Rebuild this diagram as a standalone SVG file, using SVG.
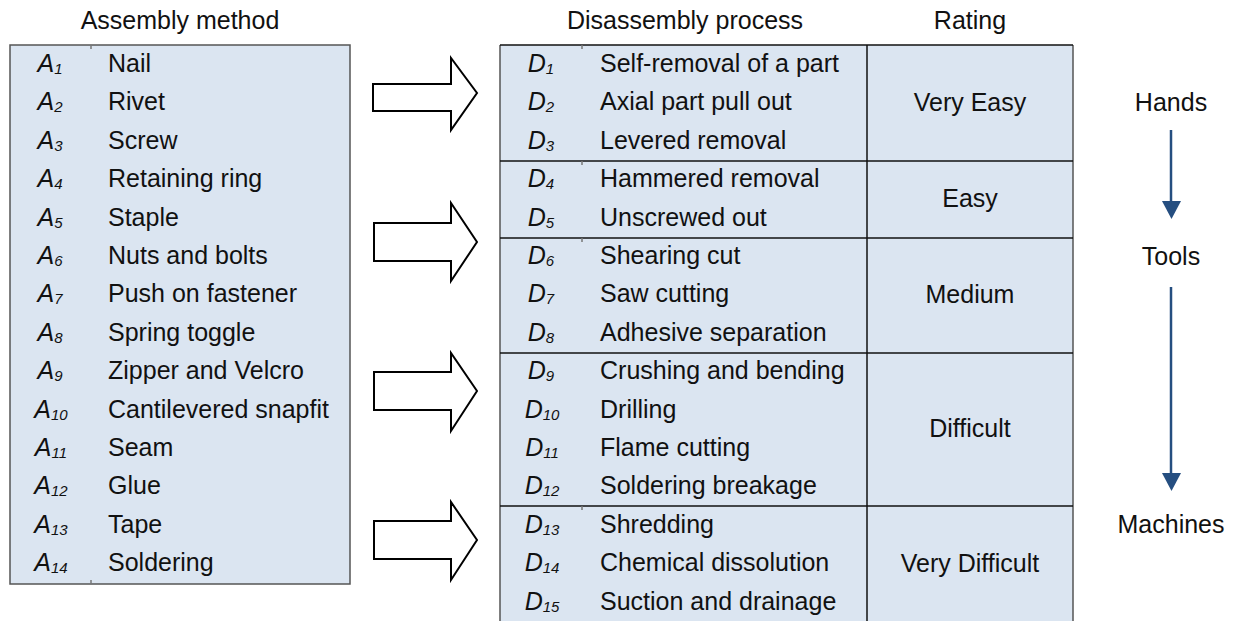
<svg xmlns="http://www.w3.org/2000/svg" width="1233" height="621" viewBox="0 0 1233 621">
<style>
text{font-family:"Liberation Sans",Arial,sans-serif;font-size:25px;fill:#111}
.lbl{font-style:italic;text-anchor:middle}
.sub{font-size:15px}
.c{text-anchor:middle}
.box{fill:#dbe5f1;stroke:none}
.edge{stroke:#555;stroke-width:1.5;fill:none}
.grid{stroke:#111;stroke-width:1.5;fill:none}
.tick{stroke:#777;stroke-width:1.5}
.block{fill:#fff;stroke:#000;stroke-width:2;stroke-linejoin:miter}
.flow{stroke:#254e80;stroke-width:2.5;fill:none}
.head{fill:#254e80}
</style>
<text class="c" x="180" y="29">Assembly method</text>
<text class="c" x="685" y="29">Disassembly process</text>
<text class="c" x="970" y="29">Rating</text>
<g id="assembly">
<rect class="box" x="10" y="45" width="340" height="539"/>
<rect class="edge" x="10" y="45" width="340" height="539"/>
<line class="tick" x1="91" y1="45" x2="91" y2="49"/>
<line class="tick" x1="91" y1="580" x2="91" y2="584"/>
<text class="lbl" x="50" y="72">A<tspan class="sub" dy="2">1</tspan></text><text x="108" y="72">Nail</text>
<text class="lbl" x="50" y="110.4">A<tspan class="sub" dy="2">2</tspan></text><text x="108" y="110.4">Rivet</text>
<text class="lbl" x="50" y="148.8">A<tspan class="sub" dy="2">3</tspan></text><text x="108" y="148.8">Screw</text>
<text class="lbl" x="50" y="187.2">A<tspan class="sub" dy="2">4</tspan></text><text x="108" y="187.2">Retaining ring</text>
<text class="lbl" x="50" y="225.6">A<tspan class="sub" dy="2">5</tspan></text><text x="108" y="225.6">Staple</text>
<text class="lbl" x="50" y="264">A<tspan class="sub" dy="2">6</tspan></text><text x="108" y="264">Nuts and bolts</text>
<text class="lbl" x="50" y="302.4">A<tspan class="sub" dy="2">7</tspan></text><text x="108" y="302.4">Push on fastener</text>
<text class="lbl" x="50" y="340.8">A<tspan class="sub" dy="2">8</tspan></text><text x="108" y="340.8">Spring toggle</text>
<text class="lbl" x="50" y="379.2">A<tspan class="sub" dy="2">9</tspan></text><text x="108" y="379.2">Zipper and Velcro</text>
<text class="lbl" x="51" y="417.6">A<tspan class="sub" dy="2">10</tspan></text><text x="108" y="417.6">Cantilevered snapfit</text>
<text class="lbl" x="51" y="456">A<tspan class="sub" dy="2">11</tspan></text><text x="108" y="456">Seam</text>
<text class="lbl" x="51" y="494.4">A<tspan class="sub" dy="2">12</tspan></text><text x="108" y="494.4">Glue</text>
<text class="lbl" x="51" y="532.8">A<tspan class="sub" dy="2">13</tspan></text><text x="108" y="532.8">Tape</text>
<text class="lbl" x="51" y="571.2">A<tspan class="sub" dy="2">14</tspan></text><text x="108" y="571.2">Soldering</text>
</g>
<g id="connectors">
<path class="block" d="M373 84 H451 V58 L477 93 L451 130 V111 H373 Z"/>
<path class="block" d="M374 223 H451 V203 L477 242 L451 281 V261 H374 Z"/>
<path class="block" d="M374 372 H451 V353 L477 391 L451 431 V410 H374 Z"/>
<path class="block" d="M374 521 H451 V502 L477 540 L451 580 V559 H374 Z"/>
<line class="flow" x1="1171" y1="130" x2="1171" y2="203"/>
<path class="head" d="M1162 201 H1181 L1171.5 219 Z"/>
<line class="flow" x1="1171" y1="287" x2="1171" y2="475"/>
<path class="head" d="M1162 473 H1181 L1171.5 491 Z"/>
</g>
<g id="disassembly">
<rect class="box" x="500" y="45" width="573" height="576"/>
<line class="edge" x1="500" y1="45" x2="500" y2="621"/>
<line class="edge" x1="1073" y1="45" x2="1073" y2="621"/>
<line class="grid" x1="500" y1="45" x2="1073" y2="45"/>
<line class="grid" x1="867" y1="45" x2="867" y2="621"/>
<line class="grid" x1="500" y1="161" x2="1073" y2="161"/>
<line class="grid" x1="500" y1="238" x2="1073" y2="238"/>
<line class="grid" x1="500" y1="353" x2="1073" y2="353"/>
<line class="grid" x1="500" y1="506" x2="1073" y2="506"/>
<line class="tick" x1="582" y1="45" x2="582" y2="49"/>
<line class="tick" x1="582" y1="161" x2="582" y2="165"/>
<line class="tick" x1="582" y1="238" x2="582" y2="242"/>
<line class="tick" x1="582" y1="506" x2="582" y2="510"/>
<text class="lbl" x="541" y="72">D<tspan class="sub" dy="2">1</tspan></text><text x="600" y="72">Self-removal of a part</text>
<text class="lbl" x="541" y="110.4">D<tspan class="sub" dy="2">2</tspan></text><text x="600" y="110.4">Axial part pull out</text>
<text class="lbl" x="541" y="148.8">D<tspan class="sub" dy="2">3</tspan></text><text x="600" y="148.8">Levered removal</text>
<text class="lbl" x="541" y="187.2">D<tspan class="sub" dy="2">4</tspan></text><text x="600" y="187.2">Hammered removal</text>
<text class="lbl" x="541" y="225.6">D<tspan class="sub" dy="2">5</tspan></text><text x="600" y="225.6">Unscrewed out</text>
<text class="lbl" x="541" y="264">D<tspan class="sub" dy="2">6</tspan></text><text x="600" y="264">Shearing cut</text>
<text class="lbl" x="541" y="302.4">D<tspan class="sub" dy="2">7</tspan></text><text x="600" y="302.4">Saw cutting</text>
<text class="lbl" x="541" y="340.8">D<tspan class="sub" dy="2">8</tspan></text><text x="600" y="340.8">Adhesive separation</text>
<text class="lbl" x="541" y="379.2">D<tspan class="sub" dy="2">9</tspan></text><text x="600" y="379.2">Crushing and bending</text>
<text class="lbl" x="542" y="417.6">D<tspan class="sub" dy="2">10</tspan></text><text x="600" y="417.6">Drilling</text>
<text class="lbl" x="542" y="456">D<tspan class="sub" dy="2">11</tspan></text><text x="600" y="456">Flame cutting</text>
<text class="lbl" x="542" y="494.4">D<tspan class="sub" dy="2">12</tspan></text><text x="600" y="494.4">Soldering breakage</text>
<text class="lbl" x="542" y="532.8">D<tspan class="sub" dy="2">13</tspan></text><text x="600" y="532.8">Shredding</text>
<text class="lbl" x="542" y="571.2">D<tspan class="sub" dy="2">14</tspan></text><text x="600" y="571.2">Chemical dissolution</text>
<text class="lbl" x="542" y="609.6">D<tspan class="sub" dy="2">15</tspan></text><text x="600" y="609.6">Suction and drainage</text>
</g>
<g id="ratings">
<text class="c" x="970" y="111">Very Easy</text>
<text class="c" x="970" y="207">Easy</text>
<text class="c" x="970" y="303">Medium</text>
<text class="c" x="970" y="437">Difficult</text>
<text class="c" x="970" y="572">Very Difficult</text>
</g>
<g id="scale">
<text class="c" x="1171" y="111">Hands</text>
<text class="c" x="1171" y="265">Tools</text>
<text class="c" x="1171" y="533">Machines</text>
</g>
</svg>
